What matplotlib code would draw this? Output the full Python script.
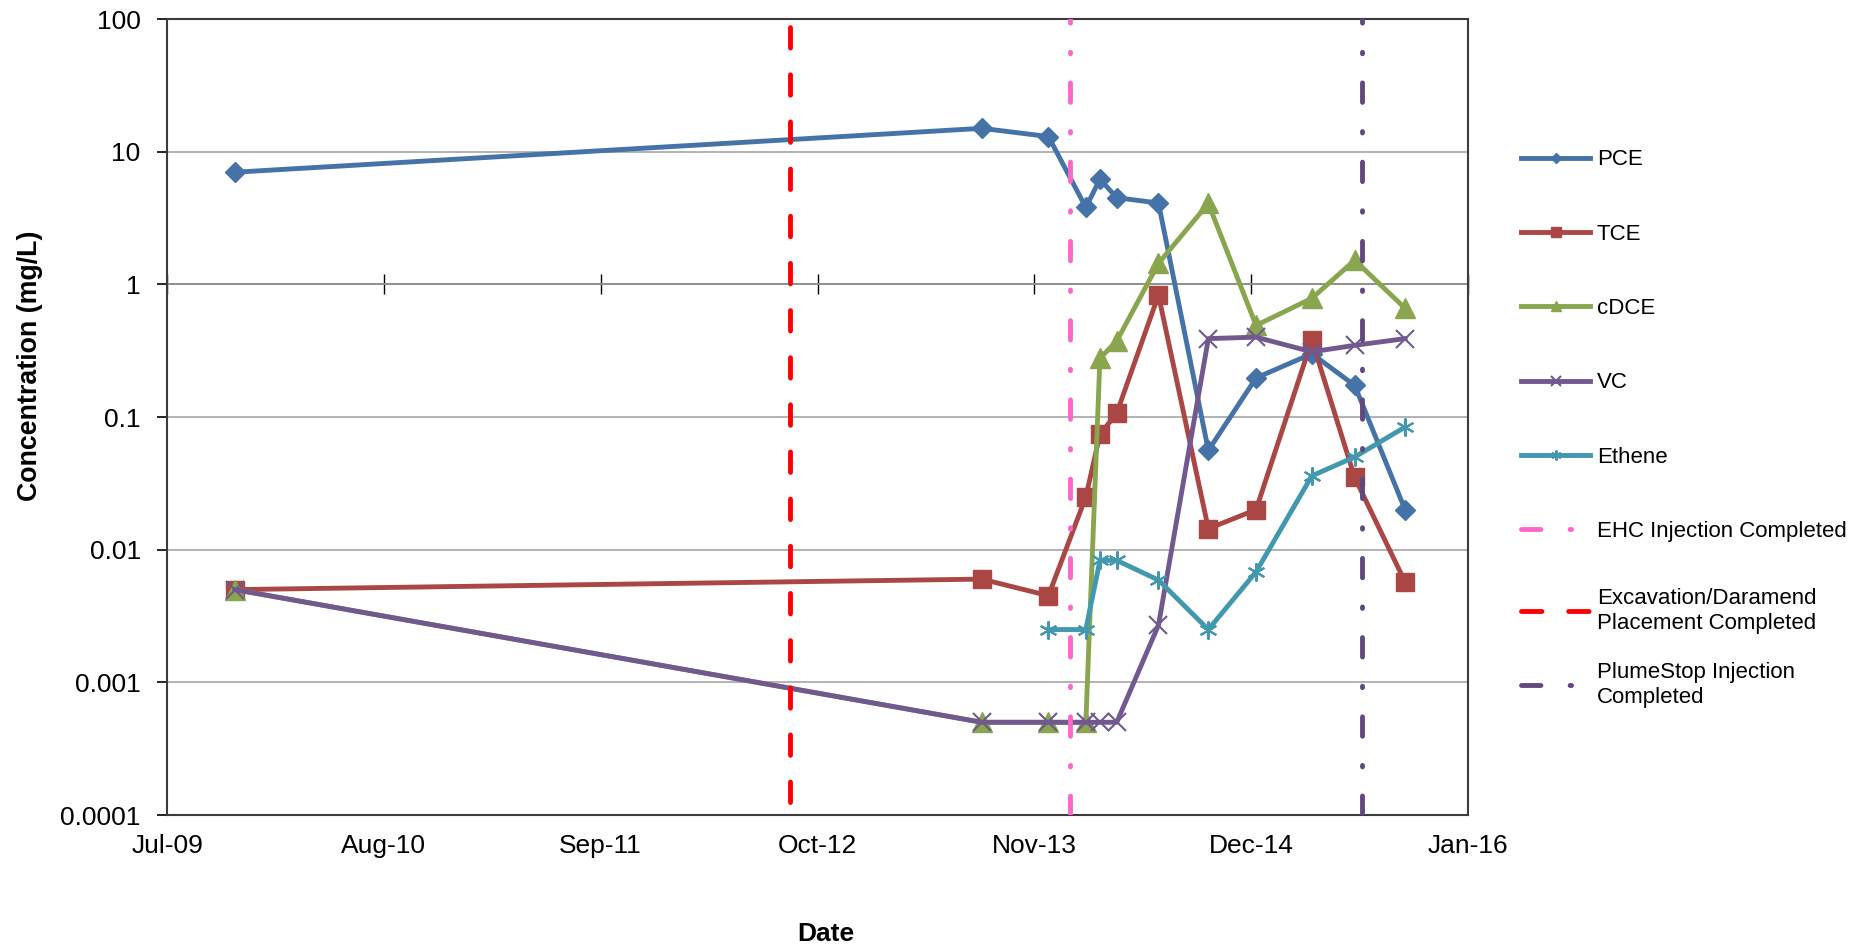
import matplotlib
matplotlib.use('Agg')
import matplotlib.pyplot as plt
import matplotlib.dates as mdates
import numpy as np
import pandas as pd

plt.rcParams['font.family'] = ['Liberation Sans', 'DejaVu Sans']

# sample dates and concentrations (mg/L)
dates = ['2009-11-03', '2013-08-12', '2013-12-13', '2014-02-20', '2014-03-18', '2014-04-18',
         '2014-07-04', '2014-10-04', '2014-12-31', '2015-04-13', '2015-07-01', '2015-10-02']
pce = [7.0, 15, 13, 3.8, 6.2, 4.5, 4.1, 0.056, 0.197, 0.30, 0.173, 0.020]
tce = [0.005, 0.006, 0.0045, 0.025, 0.074, 0.107, 0.83, 0.0144, 0.020, 0.38, 0.035, 0.0057]
cdce = [0.005, 0.0005, 0.0005, 0.0005, 0.277, 0.374, 1.44, 4.07, 0.49, 0.785, 1.52, 0.66]
vc = [0.005, 0.0005, 0.0005, 0.0005, 0.0005, 0.0005, 0.0027, 0.39, 0.40, 0.31, 0.347, 0.39]
ethene = [np.nan, np.nan, 0.0025, 0.0025, 0.0083, 0.0083, 0.0059, 0.0025, 0.0068, 0.036, 0.050, 0.084]

# remediation events
ehc_date = '2014-01-22'
excav_date = '2012-08-23'
plume_date = '2015-07-14'

x_start = '2009-07-01'
x_end = '2016-01-26'
tick_dates = pd.date_range(x_start, periods=7, freq='400D')

x = mdates.date2num(pd.to_datetime(dates))

fig = plt.figure(figsize=(18.71, 9.51), dpi=100)
ax = fig.add_axes([0.0893, 0.143, 0.6953, 0.837])

ax.plot(x, pce, color='#4572A7', lw=3.5, marker='D', ms=10, mew=1, label='PCE', zorder=3)
ax.plot(x, tce, color='#AA4643', lw=3.5, marker='s', ms=13, mew=1, label='TCE', zorder=3)
ax.plot(x, cdce, color='#89A54E', lw=3.5, marker='^', ms=14, mew=1, label='cDCE', zorder=3)
ax.plot(x, vc, color='#71588F', lw=3.5, marker='x', ms=13, mew=1.5, label='VC', zorder=3)
ax.plot(x, ethene, color='#4198AF', lw=3.5, marker=(6, 2, 0), ms=13, mew=1.5, label='Ethene', zorder=3)

ax.axvline(mdates.date2num(pd.Timestamp(ehc_date)), color='#FF66CC', lw=3.5,
           dashes=(4, 6, 0.3, 6), dash_capstyle='round', label='EHC Injection Completed', zorder=4)
ax.axvline(mdates.date2num(pd.Timestamp(excav_date)), ymin=0.016, ymax=0.995, color='#FF0000', lw=3.5,
           dashes=(4.2, 5.5), dash_capstyle='round',
           label='Excavation/Daramend\nPlacement Completed', zorder=4)
ax.axvline(mdates.date2num(pd.Timestamp(plume_date)), color='#604A7B', lw=3.5,
           dashes=(4, 6, 0.3, 6), dash_capstyle='round',
           label='PlumeStop Injection\nCompleted', zorder=4)

ax.set_yscale('log')
ax.set_ylim(1e-4, 100)
ax.set_xlim(mdates.date2num(pd.Timestamp(x_start)), mdates.date2num(pd.Timestamp(x_end)))

yt = [1e-4, 1e-3, 1e-2, 1e-1, 1, 10, 100]
ax.set_yticks(yt)
ax.set_yticklabels(['0.0001', '0.001', '0.01', '0.1', '1', '10', '100'])
ax.yaxis.set_minor_locator(matplotlib.ticker.NullLocator())
ax.tick_params(axis='y', direction='out', length=7, width=1.2, labelsize=19, pad=12)

ax.set_xticks(mdates.date2num(tick_dates))
ax.xaxis.set_major_formatter(mdates.DateFormatter('%b-%y'))
ax.tick_params(axis='x', length=0, labelsize=19, pad=14)

ax.grid(axis='y', color='#a6a6a6', lw=1.2)
ax.set_axisbelow(True)
for s in ax.spines.values():
    s.set_color('#3c3c3c')
    s.set_linewidth(1.5)

# horizontal axis line crossing at 1
sec = ax.secondary_xaxis(4 / 6)
sec.set_xticks(mdates.date2num(tick_dates))
sec.tick_params(axis='x', direction='inout', length=14, width=1, color='black',
                labelbottom=False, labeltop=False)
for s in sec.spines.values():
    s.set_color('black')
    s.set_linewidth(1.2)

ax.set_ylabel('Concentration (mg/L)', fontsize=19.3, fontweight='bold')
ax.yaxis.set_label_coords(-0.095, 0.565)
ax.set_xlabel('Date', fontsize=19, fontweight='bold')
ax.xaxis.set_label_coords(0.506, -0.135)

# legend split in two so the two-line entries keep the same spacing
handles, labels = ax.get_legend_handles_labels()
leg_kw = dict(frameon=False, fontsize=16, handlelength=3.1, handletextpad=0.3,
              markerscale=0.55, borderpad=0, borderaxespad=0)
leg1 = fig.legend(handles[:6], labels[:6], loc='upper left', bbox_to_anchor=(0.813, 0.843),
                  labelspacing=2.4, **leg_kw)
leg2 = fig.legend(handles[6:], labels[6:], loc='center left', bbox_to_anchor=(0.813, 0.3186),
                  labelspacing=1.3, **leg_kw)

fig.savefig('out.png', dpi=100)
